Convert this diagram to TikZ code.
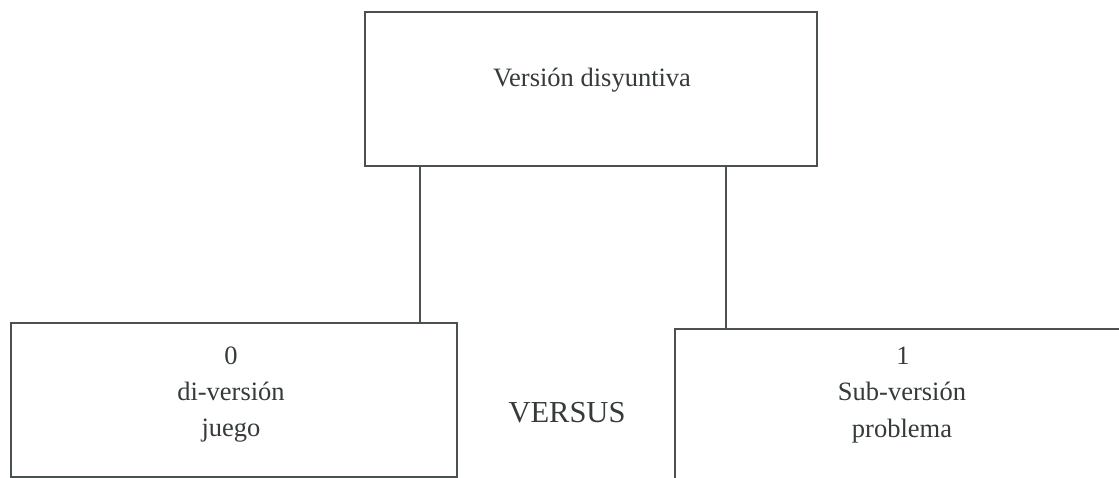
\documentclass[tikz,border=0pt]{standalone}
\usepackage{fontspec}
\setmainfont{Liberation Serif}
\definecolor{linecol}{HTML}{4A5150}
\definecolor{txtcol}{HTML}{353A3A}
\begin{document}
\begin{tikzpicture}[x=1pt,y=-1pt,
  box/.style={draw=linecol, line width=1.5pt, inner sep=0pt, fill=none},
  txt/.style={text=txtcol, inner sep=0pt, anchor=base, font=\fontsize{26.5}{32}\selectfont},
  big/.style={text=txtcol, inner sep=0pt, anchor=base, font=\fontsize{30.5}{36}\selectfont},
  conn/.style={draw=linecol, line width=1.6pt}]
\useasboundingbox (0,0) rectangle (1119,478);
\clip (0,0) rectangle (1119,478);
\fill[white] (0,0) rectangle (1119,478);
% boxes
\node[box, minimum width=452pt, minimum height=154pt] (top) at (591,89) {};
\node[box, minimum width=446pt, minimum height=154pt] (left) at (234,400) {};
\node[box, minimum width=450pt, minimum height=156pt] (right) at (900,407) {};
% texts
\node[txt] (ttop) at (592,87) {Versión disyuntiva};
\node[txt] (l0) at (231,364) {0};
\node[txt] (l1) at (231,400) {di-versión};
\node[txt] (l2) at (231,436) {juego};
\node[txt] (r0) at (903,364) {1};
\node[txt] (r1) at (902,400) {Sub-versión};
\node[txt] (r2) at (902,437) {problema};
\node[big] (vs) at (567,422) {VERSUS};
% connectors
\coordinate (c1) at (420,0);
\coordinate (c2) at (726,0);
\draw[conn] (top.south -| c1) -- (left.north -| c1);
\draw[conn] (top.south -| c2) -- (right.north -| c2);
\end{tikzpicture}
\end{document}
